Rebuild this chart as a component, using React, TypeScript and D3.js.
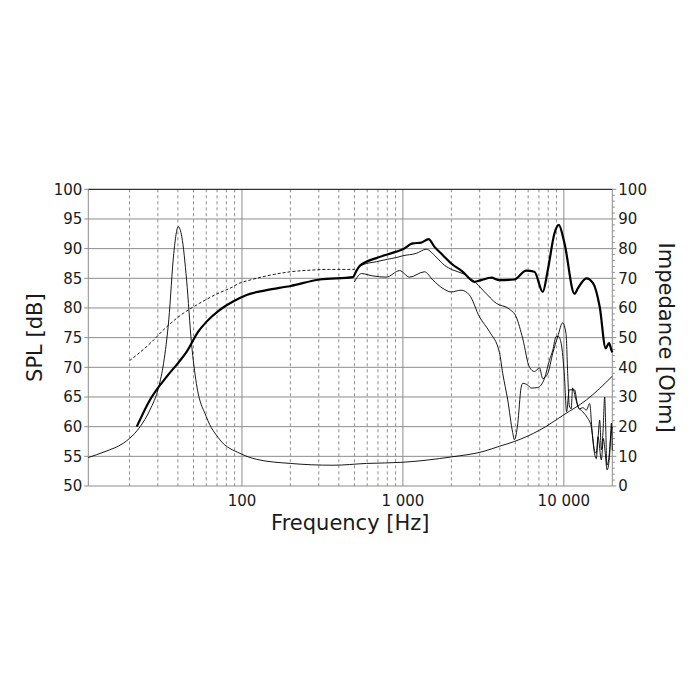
import * as d3 from "d3";

// frequency response + impedance
// [Hz, dB]
const onAxis: [number, number][] = [
  [22.2, 60.0], [26.8, 64.5], [34, 68.4], [40.3, 70.8], [45.3, 72.6], [53.5, 76.0],
  [60.3, 77.7], [72.9, 79.7], [88.1, 81.1], [106.9, 82.2], [142.3, 83.0], [200, 83.7],
  [304, 84.8], [489.5, 85.2], [515, 86.3], [540, 87.1], [565, 87.5], [684, 88.4],
  [910, 89.5], [1000, 89.9], [1153, 90.9], [1300, 91.0], [1443, 91.6], [1572, 90.3],
  [1771, 88.9], [1996, 87.5], [2357, 86.1], [2782, 84.4], [3063, 84.7], [3537, 85.1],
  [3979, 84.7], [4930, 84.8], [5832, 86.3], [6567, 86.1], [7396, 82.7], [7950, 86.4],
  [8748, 92.6], [9300, 94.0], [10090, 90.9], [11650, 82.4], [12220, 83.3], [13800, 85.0],
  [15180, 84.2], [16700, 80.2], [18210, 73.2], [19080, 74.1], [19750, 72.9], [20000, 72.5],
];

const offAxis30: [number, number][] = [
  [490, 85.2], [520, 86.6], [565, 87.3], [684, 87.8], [800, 88.2], [910, 88.5],
  [1000, 88.8], [1210, 89.2], [1396, 89.9], [1607, 88.6], [1814, 87.2], [2044, 86.4],
  [2357, 85.8], [2720, 84.7], [3220, 82.7], [3795, 80.8], [4591, 79.8], [5057, 78.5],
  [5557, 74.8], [6116, 70.0], [6567, 69.3], [7060, 69.9], [7396, 68.1], [7950, 69.0],
  [8540, 72.4], [9170, 75.2], [9830, 77.5], [10310, 75.7], [10600, 68.0], [10820, 63.5],
  [11100, 63.0], [11340, 66.5], [11900, 64.5], [12500, 63.0], [13100, 63.2], [13800, 62.8],
  [14460, 63.9], [15000, 59.0], [15500, 55.5], [15900, 54.6], [16300, 58.0], [16700, 61.1],
  [17100, 56.1], [17500, 59.0], [17940, 65.0], [18200, 60.0], [18500, 53.5], [19000, 54.5],
  [19500, 58.0], [20000, 60.0],
];

const offAxis60: [number, number][] = [
  [500, 84.4], [552, 85.8], [651, 85.4], [789, 85.2], [954, 86.3], [1100, 85.2],
  [1363, 86.1], [1536, 84.7], [1771, 83.3], [1996, 82.7], [2302, 83.0], [2590, 82.2],
  [2990, 78.5], [3452, 76.0], [3979, 72.5], [4170, 69.0], [4480, 64.5], [4810, 59.0],
  [4930, 57.8], [5170, 60.5], [5420, 66.5], [5560, 67.3], [5970, 67.0], [6270, 66.5],
  [6880, 66.6], [7570, 68.1], [8140, 71.2], [8540, 72.9], [8960, 75.2], [9250, 75.2],
  [9630, 74.0], [10090, 68.4], [10400, 62.5], [10800, 66.2], [11650, 66.2], [12220, 63.4],
  [13100, 62.5], [14000, 61.5], [14800, 60.0], [15500, 56.0], [15900, 55.5], [16300, 58.3],
  [17100, 54.4], [17600, 58.0], [18000, 56.0], [18570, 52.7], [19280, 55.5], [19750, 60.6],
  [20000, 56.0],
];

const simulated: [number, number][] = [
  [20, 71.1], [26.8, 74.0], [34, 76.8], [43.2, 79.1], [54.6, 80.8], [72.9, 82.6],
  [84, 83.3], [97, 84.2], [112, 84.7], [142, 85.4], [200, 86.1], [276, 86.4],
  [350, 86.5], [500, 86.5],
];

// [Hz, Ohm]
const impedance: [number, number][] = [
  [11.1, 9.6], [14.1, 11.6], [18.3, 14.4], [20, 16], [23.3, 20], [26.8, 25.6],
  [30.4, 33.4], [32.6, 41.4], [35.1, 56], [37.7, 78.4], [40.2, 87.4], [42.3, 84],
  [45.3, 69.4], [48.6, 48], [52.1, 34.6], [60, 23.4], [72.9, 15.6], [97.2, 11],
  [123, 9], [200, 7.6], [368, 7], [593, 7.6], [1000, 8], [2000, 9.8], [3140, 11.6],
  [3979, 13.4], [4930, 15], [7060, 18.8], [10000, 24], [13800, 29], [20000, 37],
];

const splTicks = [50, 55, 60, 65, 70, 75, 80, 85, 90, 95, 100];
const ohmTicks = [0, 10, 20, 30, 40, 50, 60, 70, 80, 90, 100];
const decades = [100, 1000, 10000];
const decadeLabels = ["100", "1 000", "10 000"];
const minorFreqs = [20, 30, 40, 50, 60, 70, 80, 90, 200, 300, 400, 500, 600, 700, 800, 900,
  2000, 3000, 4000, 5000, 6000, 7000, 8000, 9000];

const W = 700, H = 700;
const L = 88.3, R = 612.3, T = 189.3, B = 486;
const font = "'DejaVu Sans', Verdana, sans-serif";
const grid = "#8c8c8c";
const ink = "#1a1a1a";

export default function App() {
  const x = d3.scaleLog().domain([11.1, 20000]).range([L, R]);
  const y = d3.scaleLinear().domain([50, 100]).range([B, T]);
  const yOhm = d3.scaleLinear().domain([0, 100]).range([B, T]);

  const spl = d3.line<[number, number]>()
    .x(d => x(d[0])).y(d => y(d[1]))
    .curve(d3.curveMonotoneX);
  const imp = d3.line<[number, number]>()
    .x(d => x(d[0])).y(d => yOhm(d[1]))
    .curve(d3.curveMonotoneX);

  const ohmMinor = d3.range(0, 101, 2);

  return (
    <svg width={W} height={H} style={{ position: "absolute", left: 0, top: 0, background: "#fff" }}
      fontFamily={font}>
      {/* grid */}
      {splTicks.slice(1, -1).map(v => (
        <line key={"h" + v} x1={L} x2={R} y1={y(v)} y2={y(v)} stroke={grid} strokeWidth={1} />
      ))}
      {minorFreqs.map(f => (
        <line key={"m" + f} x1={x(f)} x2={x(f)} y1={T} y2={B} stroke={grid}
          strokeWidth={1} strokeDasharray="3,3" />
      ))}
      {decades.map(f => (
        <line key={"d" + f} x1={x(f)} x2={x(f)} y1={T} y2={B} stroke={grid} strokeWidth={1} />
      ))}

      {/* frame */}
      <line x1={L} x2={L} y1={T} y2={B} stroke={grid} />
      <line x1={L} x2={R} y1={B} y2={B} stroke={grid} />
      <line x1={R} x2={R} y1={T} y2={B} stroke={grid} />
      <line x1={L} x2={R} y1={T} y2={T} stroke="#000" />

      {/* left axis */}
      {splTicks.map(v => (
        <g key={"l" + v}>
          <line x1={L - 4} x2={L} y1={y(v)} y2={y(v)} stroke={grid} />
          <text x={L - 6} y={y(v)} dy="0.36em" textAnchor="end" fontSize={15} fill={ink}>{v}</text>
        </g>
      ))}

      {/* right axis */}
      {ohmMinor.map(v => (
        <line key={"rm" + v} x1={R} x2={R + (v % 10 === 0 ? 4 : 2.5)} y1={yOhm(v)} y2={yOhm(v)}
          stroke={grid} />
      ))}
      {ohmTicks.map(v => (
        <text key={"r" + v} x={R + 6} y={yOhm(v)} dy="0.36em" fontSize={15} fill={ink}>{v}</text>
      ))}

      {/* bottom axis */}
      {decades.map((f, i) => (
        <text key={"b" + f} x={x(f)} y={506} textAnchor="middle" fontSize={15} fill={ink}>
          {decadeLabels[i]}
        </text>
      ))}

      {/* curves */}
      <path d={imp(impedance) ?? ""} fill="none" stroke="#000" strokeWidth={0.9} />
      <path d={spl(simulated) ?? ""} fill="none" stroke="#000" strokeWidth={0.9}
        strokeDasharray="3,2" />
      <path d={spl(offAxis60) ?? ""} fill="none" stroke="#000" strokeWidth={0.9} />
      <path d={spl(offAxis30) ?? ""} fill="none" stroke="#000" strokeWidth={0.9} />
      <path d={spl(onAxis) ?? ""} fill="none" stroke="#000" strokeWidth={2.2}
        strokeLinejoin="round" />

      {/* titles */}
      <text x={(L + R) / 2} y={530} textAnchor="middle" fontSize={21} fill={ink}>Frequency [Hz]</text>
      <text transform={`translate(41.5,${(T + B) / 2}) rotate(-90)`} textAnchor="middle"
        fontSize={21} fill={ink}>SPL [dB]</text>
      <text transform={`translate(659,${(T + B) / 2}) rotate(90)`} textAnchor="middle"
        fontSize={21} fill={ink}>Impedance [Ohm]</text>
    </svg>
  );
}
